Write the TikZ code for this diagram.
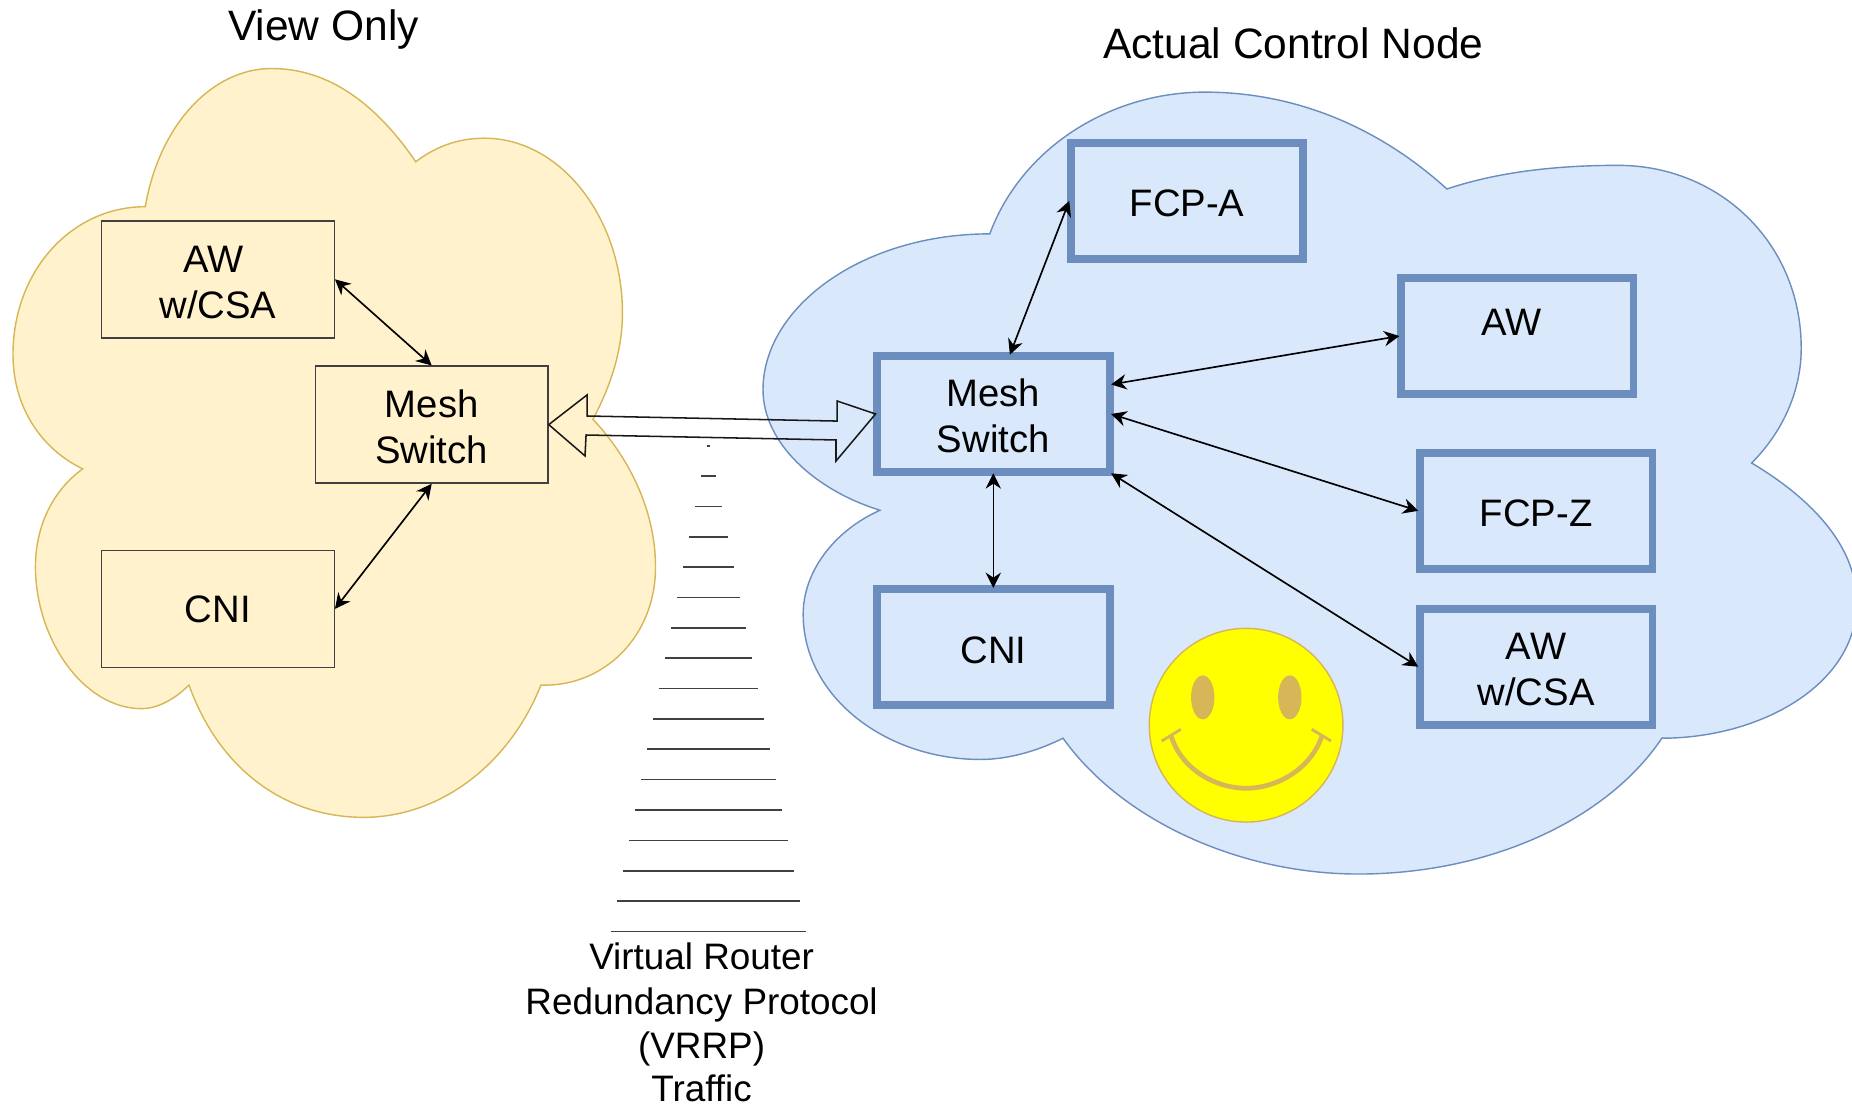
\documentclass[tikz,border=0pt]{standalone}
\usepackage{fontspec}
\setmainfont{Liberation Sans}
\usetikzlibrary{arrows.meta,calc}
\definecolor{yfill}{HTML}{FFF2CC}
\definecolor{ystroke}{HTML}{D6B656}
\definecolor{bfill}{HTML}{DAE8FC}
\definecolor{bstroke}{HTML}{6C8EBF}
\definecolor{smileyfill}{RGB}{255,255,0}
\newcommand\dnstrut{\rule{0pt}{13.6pt}}
\tikzset{
  x=0.5pt,y=-0.5pt,
  thinbox/.style={draw=black!75,line width=0.6pt,minimum width=98.5pt,minimum height=49.5pt,inner sep=0pt,align=center,font=\fontsize{16.2}{19.4}\selectfont},
  thickbox/.style={draw=bstroke,line width=3.3pt,minimum width=98.5pt,minimum height=49pt,inner sep=0pt,outer sep=0.6pt,align=center,font=\fontsize{16.2}{19.4}\selectfont},
  link/.style={line width=0.7pt,{Stealth[length=6.5pt,width=6.5pt]}-{Stealth[length=6.5pt,width=6.5pt]}},
  rung/.style={line width=0.7pt,black!75},
  smile/.style={draw=ystroke,line width=2pt,line cap=butt},
  title/.style={font=\fontsize{18}{21}\selectfont,inner sep=0pt},
  caption/.style={font=\fontsize{15.6}{18.9}\selectfont,inner sep=0pt,align=center,anchor=base},
}
\begin{document}
\begin{tikzpicture}
\useasboundingbox (0,0) rectangle (1568,935.5);
\begin{scope}
\clip (0,0) rectangle (1568,935.5);
% left cloud
\draw[fill=yfill,draw=ystroke,line width=0.6pt]
 (123,175) .. controls (135,105) and (180,58) .. (230,58)
 .. controls (280,58) and (320,90) .. (352,137)
 .. controls (370,123) and (390,117) .. (410,117)
 .. controls (475,117) and (527,185) .. (527,265)
 .. controls (527,295) and (518,325) .. (502,355)
 .. controls (535,390) and (555,435) .. (555,480)
 .. controls (555,540) and (510,582) .. (458,580)
 .. controls (430,650) and (370,692) .. (308,692)
 .. controls (240,692) and (185,650) .. (160,580)
 .. controls (145,595) and (130,600) .. (120,600)
 .. controls (70,600) and (30,540) .. (30,480)
 .. controls (30,445) and (45,415) .. (70,397)
 .. controls (35,380) and (11,345) .. (11,300)
 .. controls (11,230) and (60,175) .. (123,175) -- cycle;
% right cloud
\draw[fill=bfill,draw=bstroke,line width=0.6pt]
 (838,198) .. controls (865,125) and (940,78) .. (1020,78)
 .. controls (1100,78) and (1170,110) .. (1225,160)
 .. controls (1270,145) and (1320,140) .. (1370,140)
 .. controls (1455,140) and (1525,205) .. (1525,295)
 .. controls (1525,330) and (1510,365) .. (1483,392)
 .. controls (1530,420) and (1572,460) .. (1572,510)
 .. controls (1572,580) and (1490,625) .. (1407,625)
 .. controls (1360,695) and (1260,740) .. (1150,740)
 .. controls (1050,740) and (950,695) .. (900,625)
 .. controls (880,635) and (855,643) .. (830,643)
 .. controls (750,643) and (680,590) .. (680,520)
 .. controls (680,485) and (705,450) .. (745,432)
 .. controls (690,415) and (646,375) .. (646,330)
 .. controls (646,260) and (730,198) .. (838,198) -- cycle;
\end{scope}
% left boxes
\node[thinbox] (lcsa) at (184.5,236.5) {\dnstrut AW\hspace*{4pt}\\w/CSA};
\node[thinbox] (lmesh) at (365.5,359.5) {\dnstrut Mesh\\Switch};
\node[thinbox] (lcni) at (184.5,515.5) {CNI};
% right boxes
\node[thickbox] (fcpa) at (1005,170) {\dnstrut FCP-A};
\node[thickbox,label={[font=\fontsize{16.2}{19.4}\selectfont,inner sep=0pt,xshift=-2.5pt,yshift=6pt]center:AW}] (raw) at (1284.5,284.5) {};
\node[thickbox] (rmesh) at (841,350.5) {\dnstrut Mesh\\Switch};
\node[thickbox] (fcpz) at (1300.5,432.5) {\dnstrut FCP-Z};
\node[thickbox] (rcni) at (841,548) {\dnstrut CNI};
\node[thickbox] (rcsa) at (1300.5,564.5) {\dnstrut AW\\w/CSA};
\coordinate (meshtop) at ($(rmesh.north)+(14,0)$);
\coordinate (meshhigh) at ($(rmesh.east)+(0,-25)$);
% connectors
\draw[link] (lcsa.east) -- (lmesh.north);
\draw[link] (lmesh.south) -- (lcni.east);
\draw[link] (fcpa.west) -- (meshtop);
\draw[link] (raw.west) -- (meshhigh);
\draw[link] (fcpz.west) -- (rmesh.east);
\draw[link] (rcsa.west) -- (rmesh.south east);
\draw[link] (rmesh.south) -- (rcni.north);
% block arrow
\draw[line width=0.65pt,line join=miter,black!90] (lmesh.east) -- (497,334.4) -- (497,352.2) -- (708.7,356.5) -- (708.7,339.5)
  -- (rmesh.west) -- (707.8,390.3) -- (707.8,372.5) -- (496.2,368.3) -- (495.3,386) -- cycle;
% ladder
\foreach \i in {0,...,16}{
  \pgfmathsetmacro{\hw}{1.5+5.08*\i}
  \pgfmathsetmacro{\yy}{377.5+25.69*\i}
  \draw[rung] (600-\hw,\yy) -- (600+\hw,\yy);
}
% smiley
\draw[draw=ystroke,line width=0.6pt,fill=smileyfill] (1055,614) circle [radius=82];
\fill[ystroke] (1018.3,590.4) ellipse [x radius=9.9,y radius=18.6];
\fill[ystroke] (1092,590.4) ellipse [x radius=9.9,y radius=18.6];
\draw[smile] (991.2,622) .. controls (1000,652) and (1030,667.4) .. (1055,667.4) .. controls (1080,667.4) and (1110,652) .. (1119.6,622);
\draw[smile,line width=1.2pt] (983.5,627.4) -- (999.7,617.5);
\draw[smile,line width=1.2pt] (1110.6,617.5) -- (1126.9,627.4);
% labels
\node[title] (viewonly) at (274,25) {View Only};
\node[title] (actual) at (1095,36.5) {Actual Control Node};
\node[caption] (c1) at (594,821) {Virtual Router};
\node[caption] (c2) at (594,859) {Redundancy Protocol};
\node[caption] (c3) at (594,896) {(VRRP)};
\node[caption] (c4) at (594,933) {Traffic};
\end{tikzpicture}
\end{document}
